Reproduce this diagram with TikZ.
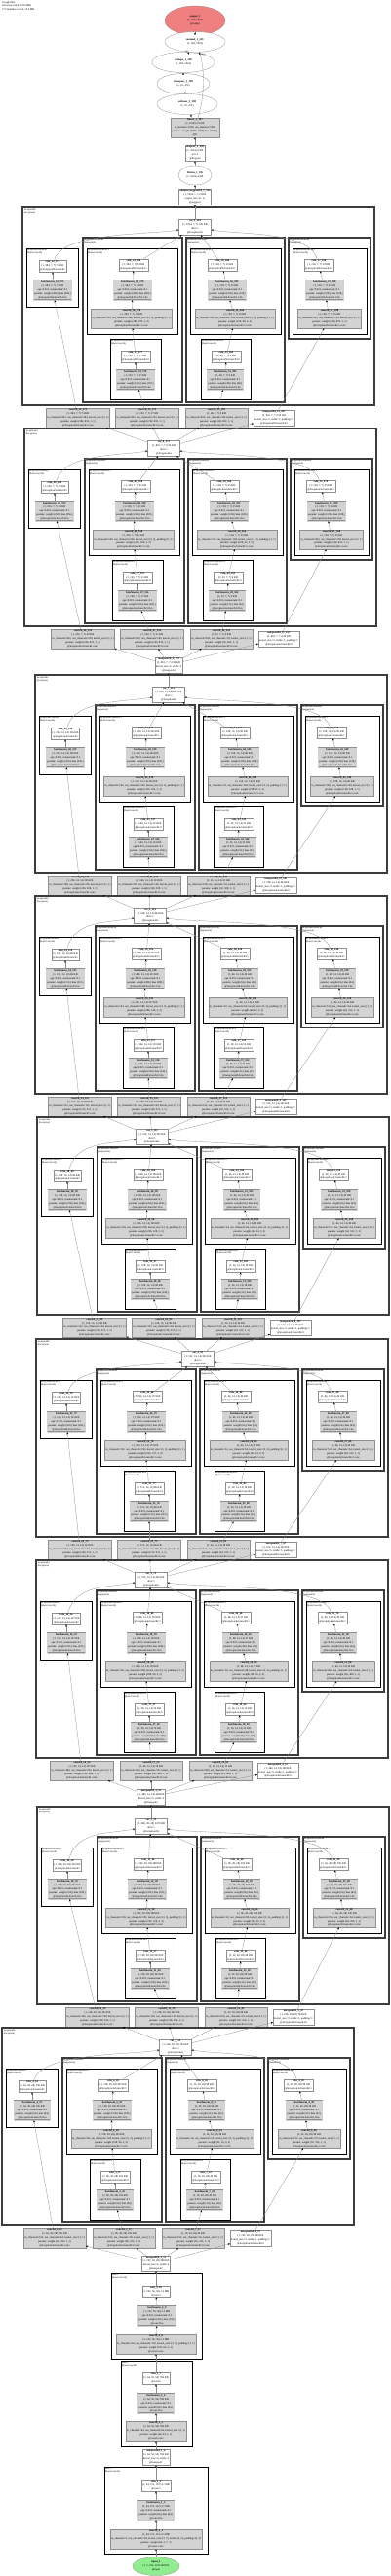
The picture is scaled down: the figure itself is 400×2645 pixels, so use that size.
\documentclass[tikz,border=0pt]{standalone}
\usepackage{fontspec}
\setmainfont{Liberation Serif}
\usetikzlibrary{arrows.meta,shapes.geometric}

\definecolor{gvfill}{HTML}{D3D3D3}
\definecolor{gvline}{HTML}{8F8F8F}
\definecolor{gvout}{HTML}{F08080}
\definecolor{gvin}{HTML}{90EE90}
\definecolor{gvbox}{HTML}{3C3C3C}

\newcommand{\kk}[1]{\the\numexpr\kb+#1\relax}
\newcommand{\nid}[1]{\the\numexpr\qb+#1\relax}
\newcommand{\tsz}[2]{(1, #1, #2, #2) \pgfmathparse{int(round(#1/256*#2*#2))}\pgfmathresult~KB}

\begin{document}
\begin{tikzpicture}[x=1pt, y=-1pt,
  font=\fontsize{2.8}{3.9}\selectfont,
  opbox/.style={draw=gvline, line width=0.3pt, fill=white, inner sep=1pt, align=center},
  modbox/.style={opbox, fill=gvfill},
  bnbox/.style={modbox, double=gvfill, double distance=0.8pt},
  fnell/.style={ellipse, draw=gvline, line width=0.3pt, fill=white, inner sep=0pt, align=center},
  edge/.style={draw=gvline, line width=0.3pt, -{Stealth[length=2.2pt, width=1.8pt, color=black]}},
  incl/.style={draw=gvbox, line width=1.5pt},
  seql/.style={draw=gvbox, line width=1.1pt},
  bcl/.style={draw=black, line width=0.7pt},
  clab/.style={font=\fontsize{2.5}{2.9}\selectfont, anchor=north west, inner sep=0.6pt, align=left},
  elab/.style={font=\fontsize{2.6}{3}\selectfont, inner sep=0.5pt},
]
  \useasboundingbox (0,0) rectangle (400,2645);
  \fill[white] (0,0) rectangle (400,2645);

  % title
  \node[anchor=north west, align=left, inner sep=0pt] (title) at (2,1) {GoogLeNet\\63 tensors total (23.6 MB)\\173 modules called, 13.4 MB};

  % head of the net
  \node[fnell, fill=gvout, minimum width=62pt, minimum height=30pt] (out) at (200,21) {\textbf{output\_1}\\(1, 128, 1024)\\@output};
  \node[fnell, minimum width=62pt, minimum height=21pt] (mul) at (200,43) {\textbf{matmul\_1\_201}\\(1, 128, 1024)};
  \node[fnell, minimum width=64pt, minimum height=21pt] (resh) at (188,64) {\textbf{reshape\_1\_200}\\(1, 128, 1024)};
  \node[fnell, minimum width=54pt, minimum height=21pt] (trans) at (188,86) {\textbf{transpose\_1\_199}\\(1, 32, 4 K)};
  \node[fnell, minimum width=62pt, minimum height=21pt] (soft) at (192,107) {\textbf{softmax\_1\_198}\\(1, 32, 4 K)};
  \node[modbox, minimum width=50pt] (lin) at (200,131) {\textbf{linear\_1\_197}\\(1, 1000) 3.9 KB\\in\_features=1024, out\_features=1000\\params: weight (1000, 1024) bias (1000,)\\@fc};
  \node[opbox] (drop) at (200,157) {\textbf{dropout\_1\_196}\\(1, 1024) 4 KB\\p=0.2\\@dropout};
  \node[fnell, minimum width=34pt, minimum height=20pt] (flat) at (200,180) {\textbf{flatten\_1\_195}\\(1, 1024) 4 KB};
  \node[opbox] (avg) at (200,202) {\textbf{adaptiveavgpool2d\_1\_194}\\(1, 1024, 1, 1) 4 KB\\output\_size=(1, 1)\\@avgpool};

  % inception blocks
  \foreach \nm/\bi/\xo/\yo/\cx/\rx/\cin/\ca/\cbr/\cb/\ccr/\cc/\cd/\sz/\cout in {
    5b/8/23/213/200/80/832/384/192/384/48/128/128/7/1024,
    5a/7/25/440/168/85/832/256/160/320/32/128/128/7/832,
    4e/6/36/693/173/82/528/256/160/320/32/128/128/14/832,
    4d/5/36/920/154/82/512/112/144/288/32/64/64/14/528,
    4c/4/38/1147/156/97/512/128/128/256/24/64/64/14/512,
    4b/3/37/1375/203/82/512/160/112/224/24/64/64/14/512,
    4a/2/37/1602/155/84/480/192/96/208/16/48/64/14/512,
    3b/1/38/1855/155/100/256/128/128/192/32/96/64/28/480,
    3a/0/2/2082/180/56/192/64/96/128/16/32/32/28/256}{
    \pgfmathtruncatemacro{\kb}{4+6*\bi}
    \pgfmathtruncatemacro{\qb}{11+20*\bi}
    % clusters
    \draw[incl] (\xo,\yo) rectangle ++(361,203);
    \draw[bcl]  (\xo+4,\yo+42) rectangle ++(53,60);
    \draw[seql] (\xo+62,\yo+31) rectangle ++(102,169);
    \draw[bcl]  (\xo+66,\yo+42) rectangle ++(93,88);
    \draw[bcl]  (\xo+90,\yo+135) rectangle ++(52,62);
    \draw[seql] (\xo+168,\yo+31) rectangle ++(101,169);
    \draw[bcl]  (\xo+172,\yo+42) rectangle ++(93,88);
    \draw[bcl]  (\xo+183,\yo+135) rectangle ++(51,62);
    \draw[seql] (\xo+273,\yo+31) rectangle ++(84,104);
    \draw[bcl]  (\xo+277,\yo+42) rectangle ++(76,88);
    \node[clab] (li-\nm)  at (\xo+1,\yo+1) {inception\nm\\(Inception)};
    \node[clab] (l1-\nm)  at (\xo+4,\yo+42) {inception\nm.branch1\\(BasicConv2d)};
    \node[clab] (l2-\nm)  at (\xo+62,\yo+31) {inception\nm.branch2\\(Sequential)};
    \node[clab] (l21-\nm) at (\xo+66,\yo+42) {inception\nm.branch2.1\\(BasicConv2d)};
    \node[clab] (l20-\nm) at (\xo+90,\yo+135) {inception\nm.branch2.0\\(BasicConv2d)};
    \node[clab] (l3-\nm)  at (\xo+168,\yo+31) {inception\nm.branch3\\(Sequential)};
    \node[clab] (l31-\nm) at (\xo+172,\yo+42) {inception\nm.branch3.1\\(BasicConv2d)};
    \node[clab] (l30-\nm) at (\xo+183,\yo+135) {inception\nm.branch3.0\\(BasicConv2d)};
    \node[clab] (l4-\nm)  at (\xo+273,\yo+31) {inception\nm.branch4\\(Sequential)};
    \node[clab] (l41-\nm) at (\xo+277,\yo+42) {inception\nm.branch4.1\\(BasicConv2d)};
    % branch1
    \node[modbox] (c1-\nm) at (\rx,\yo+216) {\textbf{conv2d\_\kk0\_\nid1}\\\tsz{\ca}{\sz}\\in\_channels=\cin, out\_channels=\ca, kernel\_size=(1, 1)\\params: weight (\ca, \cin, 1, 1)\\@inception\nm.branch1.conv};
    \node[bnbox] (n1-\nm) at (\xo+31,\yo+85) {\textbf{batchnorm\_\kk0\_\nid2}\\\tsz{\ca}{\sz}\\eps=0.001, momentum=0.1\\params: weight (\ca,) bias (\ca,)\\@inception\nm.branch1.bn};
    \node[opbox] (r1-\nm) at (\xo+31,\yo+60) {\textbf{relu\_\kk0\_\nid3}\\\tsz{\ca}{\sz}\\@inception\nm.branch1};
    % branch2
    \node[modbox] (c20-\nm) at (\rx+71,\yo+216) {\textbf{conv2d\_\kk1\_\nid4}\\\tsz{\cbr}{\sz}\\in\_channels=\cin, out\_channels=\cbr, kernel\_size=(1, 1)\\params: weight (\cbr, \cin, 1, 1)\\@inception\nm.branch2.0.conv};
    \node[bnbox] (n20-\nm) at (\xo+116,\yo+177) {\textbf{batchnorm\_\kk1\_\nid5}\\\tsz{\cbr}{\sz}\\eps=0.001, momentum=0.1\\params: weight (\cbr,) bias (\cbr,)\\@inception\nm.branch2.0.bn};
    \node[opbox] (r20-\nm) at (\xo+116,\yo+153) {\textbf{relu\_\kk1\_\nid6}\\\tsz{\cbr}{\sz}\\@inception\nm.branch2.0};
    \node[modbox] (c21-\nm) at (\xo+112,\yo+114) {\textbf{conv2d\_\kk2\_\nid7}\\\tsz{\cb}{\sz}\\in\_channels=\cbr, out\_channels=\cb, kernel\_size=(3, 3), padding=(1, 1)\\params: weight (\cb, \cbr, 3, 3)\\@inception\nm.branch2.1.conv};
    \node[bnbox] (n21-\nm) at (\xo+113,\yo+85) {\textbf{batchnorm\_\kk2\_\nid8}\\\tsz{\cb}{\sz}\\eps=0.001, momentum=0.1\\params: weight (\cb,) bias (\cb,)\\@inception\nm.branch2.1.bn};
    \node[opbox] (r21-\nm) at (\xo+114,\yo+59) {\textbf{relu\_\kk2\_\nid9}\\\tsz{\cb}{\sz}\\@inception\nm.branch2.1};
    % branch3
    \node[modbox] (c30-\nm) at (\rx+142,\yo+216) {\textbf{conv2d\_\kk3\_\nid{10}}\\\tsz{\ccr}{\sz}\\in\_channels=\cin, out\_channels=\ccr, kernel\_size=(1, 1)\\params: weight (\ccr, \cin, 1, 1)\\@inception\nm.branch3.0.conv};
    \node[bnbox] (n30-\nm) at (\xo+208,\yo+177) {\textbf{batchnorm\_\kk3\_\nid{11}}\\\tsz{\ccr}{\sz}\\eps=0.001, momentum=0.1\\params: weight (\ccr,) bias (\ccr,)\\@inception\nm.branch3.0.bn};
    \node[opbox] (r30-\nm) at (\xo+209,\yo+153) {\textbf{relu\_\kk3\_\nid{12}}\\\tsz{\ccr}{\sz}\\@inception\nm.branch3.0};
    \node[modbox] (c31-\nm) at (\xo+218,\yo+114) {\textbf{conv2d\_\kk4\_\nid{13}}\\\tsz{\cc}{\sz}\\in\_channels=\ccr, out\_channels=\cc, kernel\_size=(3, 3), padding=(1, 1)\\params: weight (\cc, \ccr, 3, 3)\\@inception\nm.branch3.1.conv};
    \node[bnbox] (n31-\nm) at (\xo+210,\yo+85) {\textbf{batchnorm\_\kk4\_\nid{14}}\\\tsz{\cc}{\sz}\\eps=0.001, momentum=0.1\\params: weight (\cc,) bias (\cc,)\\@inception\nm.branch3.1.bn};
    \node[opbox] (r31-\nm) at (\xo+205,\yo+59) {\textbf{relu\_\kk4\_\nid{15}}\\\tsz{\cc}{\sz}\\@inception\nm.branch3.1};
    % branch4
    \node[opbox] (m4-\nm) at (\rx+201,\yo+216) {\textbf{maxpool2d\_\the\numexpr\bi+4\relax\_\nid{16}}\\\tsz{\cin}{\sz}\\kernel\_size=3, stride=1, padding=1\\@inception\nm.branch4.0};
    \node[modbox] (c4-\nm) at (\xo+315,\yo+114) {\textbf{conv2d\_\kk5\_\nid{17}}\\\tsz{\cd}{\sz}\\in\_channels=\cin, out\_channels=\cd, kernel\_size=(1, 1)\\params: weight (\cd, \cin, 1, 1)\\@inception\nm.branch4.1.conv};
    \node[bnbox] (n4-\nm) at (\xo+310,\yo+85) {\textbf{batchnorm\_\kk5\_\nid{18}}\\\tsz{\cd}{\sz}\\eps=0.001, momentum=0.1\\params: weight (\cd,) bias (\cd,)\\@inception\nm.branch4.1.bn};
    \node[opbox] (r4-\nm) at (\xo+304,\yo+59) {\textbf{relu\_\kk5\_\nid{19}}\\\tsz{\cd}{\sz}\\@inception\nm.branch4.1};
    % concat
    \node[opbox, minimum width=33pt] (cat-\nm) at (\cx,\yo+20) {\textbf{cat\_\the\numexpr\bi+1\relax\_\nid{20}}\\\tsz{\cout}{\sz}\\dim=1\\@inception\nm};
    \foreach \a/\b in {c1/n1, n1/r1, c20/n20, n20/r20, r20/c21, c21/n21, n21/r21, r21/cat,
                       c30/n30, n30/r30, r30/c31, c31/n31, n31/r31, r31/cat, m4/c4, c4/n4, n4/r4}
      \draw[edge] (\a-\nm) -- (\b-\nm);
    \draw[edge] (r1-\nm) .. controls +(10,-35) and +(-45,8) .. (cat-\nm);
    \draw[edge] (r4-\nm) .. controls +(-10,-35) and +(45,8) .. (cat-\nm);
  }

  % stage pools between blocks
  \node[opbox] (mpa) at (173,683) {\textbf{maxpool2d\_4\_172}\\(1, 832, 7, 7) 159 KB\\kernel\_size=2, stride=2\\@maxpool4};
  \node[opbox] (mpb) at (155,1845) {\textbf{maxpool2d\_3\_52}\\(1, 480, 14, 14) 368 KB\\kernel\_size=3, stride=2\\@maxpool3};
  \node[opbox] (mpc) at (160,2324) {\textbf{maxpool2d\_2\_11}\\(1, 192, 28, 28) 588 KB\\kernel\_size=3, stride=2\\@maxpool2};

  % stem
  \draw[bcl] (114,2334) rectangle (207,2422);
  \draw[bcl] (124,2424) rectangle (197,2512);
  \draw[bcl] (107,2533) rectangle (213,2622);
  \node[clab] (lc3) at (114,2334) {conv3\\(BasicConv2d)};
  \node[clab] (lc2) at (124,2424) {conv2\\(BasicConv2d)};
  \node[clab] (lc1) at (107,2533) {conv1\\(BasicConv2d)};
  \node[opbox] (re3) at (160,2353) {\textbf{relu\_3\_10}\\(1, 192, 56, 56) 2.3 MB\\@conv3};
  \node[bnbox] (bn3) at (161,2378) {\textbf{batchnorm\_3\_9}\\(1, 192, 56, 56) 2.3 MB\\eps=0.001, momentum=0.1\\params: weight (192,) bias (192,)\\@conv3.bn};
  \node[modbox] (cv3) at (160,2407) {\textbf{conv2d\_3\_8}\\(1, 192, 56, 56) 2.3 MB\\in\_channels=64, out\_channels=192, kernel\_size=(3, 3), padding=(1, 1)\\params: weight (192, 64, 3, 3)\\@conv3.conv};
  \node[opbox] (re2) at (160,2442) {\textbf{relu\_2\_7}\\(1, 64, 56, 56) 784 KB\\@conv2};
  \node[bnbox] (bn2) at (160,2468) {\textbf{batchnorm\_2\_6}\\(1, 64, 56, 56) 784 KB\\eps=0.001, momentum=0.1\\params: weight (64,) bias (64,)\\@conv2.bn};
  \node[modbox] (cv2) at (160,2496) {\textbf{conv2d\_2\_5}\\(1, 64, 56, 56) 784 KB\\in\_channels=64, out\_channels=64, kernel\_size=(1, 1)\\params: weight (64, 64, 1, 1)\\@conv2.conv};
  \node[opbox] (mp1) at (160,2523) {\textbf{maxpool2d\_1\_4}\\(1, 64, 56, 56) 784 KB\\kernel\_size=3, stride=2\\@maxpool1};
  \node[opbox] (re1) at (160,2552) {\textbf{relu\_1\_3}\\(1, 64, 112, 112) 3.1 MB\\@conv1};
  \node[bnbox] (bn1) at (160,2578) {\textbf{batchnorm\_1\_2}\\(1, 64, 112, 112) 3.1 MB\\eps=0.001, momentum=0.1\\params: weight (64,) bias (64,)\\@conv1.bn};
  \node[modbox] (cv1) at (160,2607) {\textbf{conv2d\_1\_1}\\(1, 64, 112, 112) 3.1 MB\\in\_channels=3, out\_channels=64, kernel\_size=(7, 7), stride=(2, 2), padding=(3, 3)\\params: weight (64, 3, 7, 7)\\@conv1.conv};
  \node[fnell, fill=gvin, minimum width=48pt, minimum height=19pt] (inp) at (160,2635) {\textbf{input\_1}\\(1, 3, 224, 224) 588 KB\\@input};

  % connectors outside the blocks
  \foreach \a/\b in {inp/cv1, cv1/bn1, bn1/re1, re1/mp1, mp1/cv2, cv2/bn2, bn2/re2, re2/cv3, cv3/bn3, bn3/re3, re3/mpc,
                     cat-3b/mpb, cat-4e/mpa, cat-5b/avg, avg/flat, flat/drop, drop/lin, lin/soft, soft/trans, trans/resh, mul/out}
    \draw[edge] (\a) -- (\b);
  \foreach \nm/\src in {5b/cat-5a, 5a/mpa, 4e/cat-4d, 4d/cat-4c, 4c/cat-4b, 4b/cat-4a, 4a/mpb, 3b/cat-3a, 3a/mpc}
    \foreach \t in {c1, c20, c30, m4}
      \draw[edge] (\src) -- (\t-\nm);
  \draw[edge] (resh) -- node[elab, pos=0.8, left] (lsqz) {sqz} (mul);
  \draw[edge] (lin) .. controls +(12,-40) and +(8,20) .. node[elab, pos=0.93, right] (lview) {view} (mul);
\end{tikzpicture}
\end{document}
